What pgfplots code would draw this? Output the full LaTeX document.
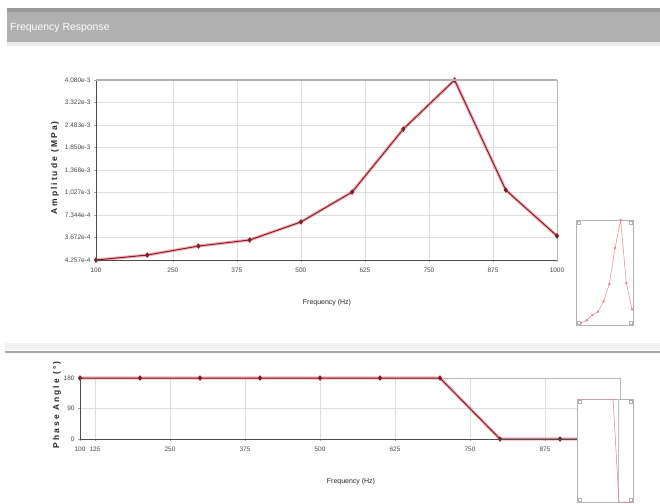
\documentclass[border=0pt]{standalone}
\usepackage{pgfplots}
\pgfplotsset{compat=1.18}
\usepackage{fontspec}
\setmainfont{Liberation Sans}
\newfontfamily\ylabfont{Liberation Sans}[LetterSpace=24]
\definecolor{lineRed}{RGB}{130,28,40}
\definecolor{haloRed}{RGB}{240,130,140}
\definecolor{tickGray}{RGB}{70,70,70}
\definecolor{gridGray}{RGB}{222,222,222}

\pgfplotstableread{
f amp
100 0
200 0.22
300 0.62
400 0.89
500 1.69
600 3.02
700 5.82
800 8.0
900 3.11
1000 1.07
}\amptable

\pgfplotstableread{
f ph
100 180
200 180
300 180
400 180
500 180
600 180
700 180
800 0
900 0
1000 0
}\phtable

\usetikzlibrary{calc}
\pgfplotsset{
  mainstyle/.style={
    scale only axis, clip=false,
    /pgf/number format/assume math mode=true,
    ticklabel style={font=\fontsize{6.5}{7}\selectfont, text=tickGray},
    grid=major, grid style={gridGray, line width=0.6pt},
    axis line style={draw=gray!55, line width=0.8pt},
    tick style={draw=gray!70, line width=0.4pt},
    major tick length=2bp, tick align=outside,
    xtick pos=bottom, ytick pos=left,
    xticklabel style={yshift=-2bp},
    after end axis/.code={
      \draw[black!70, line width=0.9pt] (rel axis cs:0,1) -- (rel axis cs:0,0) -- (rel axis cs:1,0);
    },
  },
  insetstyle/.style={
    scale only axis, ticks=none, axis background/.style={fill=white},
    axis line style={draw=gray!60, line width=0.7pt},
    after end axis/.code={
      \foreach \cx/\cy in {0/0,0/1,1/0,1/1}{
        \draw[gray!60, line width=0.4pt] ($(rel axis cs:\cx,\cy)+({(0.5-\cx)*5bp},{(0.5-\cy)*5bp})$) +(-1.2bp,-1.2bp) rectangle +(1.2bp,1.2bp);
      }
    },
  },
}

\begin{document}
\begin{tikzpicture}
\useasboundingbox (0,0) rectangle (660bp,-504bp);
\fill[white] (0,0) rectangle (660bp,-504bp);
% title bar
\fill[gray!80] (7bp,-8bp) rectangle (660bp,-12bp);
\fill[gray!62] (7bp,-12bp) rectangle (660bp,-42bp);
\fill[gray!15] (7bp,-42bp) rectangle (660bp,-46bp);
\node[anchor=west, text=white, font=\fontsize{10.5}{12}\selectfont, inner sep=0pt] at (10bp,-28bp) {Frequency Response};
% separator
\fill[gray!10] (5bp,-343bp) rectangle (660bp,-350bp);
\draw[gray!70, line width=2.2bp] (5bp,-352bp) -- (660bp,-352bp);

% ---------- amplitude ----------
\begin{axis}[mainstyle,
  at={(96bp,-260bp)}, anchor=south west,
  width=461bp, height=180bp,
  xmin=100, xmax=1000, ymin=0, ymax=8,
  xtick={100,250,375,500,625,750,875,1000},
  ytick={0,1,2,3,4,5,6,7,8},
  yticklabels={4.257e-4,3.672e-4,7.344e-4,1.027e-3,1.368e-3,1.850e-3,2.483e-3,3.322e-3,4.080e-3},
  xticklabel style={/pgf/number format/.cd, set thousands separator={}},
  extra description/.code={
    \draw[gray!60, line width=1.4pt] (rel axis cs:0,1) -- (rel axis cs:1,1);
  },
]
\addplot[haloRed, opacity=0.6, line width=3.2bp, forget plot] table[x=f,y=amp] {\amptable};
\addplot[lineRed, line width=1pt, mark=diamond*, mark size=2bp, mark options={fill=lineRed}] table[x=f,y=amp] {\amptable};
\end{axis}
\node[font=\fontsize{7}{8}\selectfont, text=black!85] at (327bp,-303bp) {Frequency (Hz)};
\node[rotate=90, font=\ylabfont\bfseries\fontsize{8.5}{9}\selectfont, text=black!85] at (55bp,-168bp) {Amplitude (MPa)};

% ---------- phase ----------
\begin{axis}[mainstyle,
  at={(80bp,-439bp)}, anchor=south west,
  width=540bp, height=61bp,
  xmin=100, xmax=1000, ymin=0, ymax=180,
  xtick={100,125,250,375,500,625,750,875},
  ytick={0,90,180},
]
\addplot[haloRed, opacity=0.6, line width=3.2bp, forget plot] table[x=f,y=ph] {\phtable};
\addplot[lineRed, line width=1pt, mark=diamond*, mark size=2bp, mark options={fill=lineRed}] table[x=f,y=ph] {\phtable};
\end{axis}
\node[font=\fontsize{7}{8}\selectfont, text=black!85] at (351bp,-482bp) {Frequency (Hz)};
\node[rotate=90, font=\ylabfont\bfseries\fontsize{8.5}{9}\selectfont, text=black!85] at (57bp,-405bp) {Phase Angle (\textdegree)};

% ---------- insets ----------
\begin{axis}[insetstyle,
  at={(576bp,-325bp)}, anchor=south west,
  width=57bp, height=105bp,
  xmin=12, xmax=1018, ymin=-0.15, ymax=8,
]
\addplot[haloRed, line width=0.5pt, mark=*, mark size=0.9bp, mark options={fill=haloRed!70!lineRed, draw=none}] table[x=f,y=amp] {\amptable};
\end{axis}

\begin{axis}[insetstyle,
  at={(577bp,-502bp)}, anchor=south west,
  width=56bp, height=103bp,
  xmin=100, xmax=1033, ymin=0, ymax=180,
]
\draw[gray!50, line width=0.5pt] (axis cs:783,0) -- (axis cs:783,180);
\addplot[haloRed!90!lineRed, line width=0.5pt] table[x=f,y=ph] {\phtable};
\end{axis}
\end{tikzpicture}
\end{document}
